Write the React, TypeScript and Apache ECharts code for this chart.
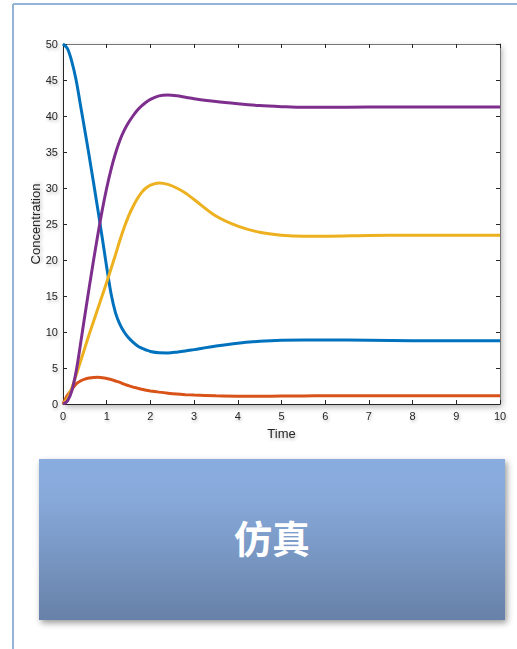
import React, { useEffect, useRef } from "react";
import * as echarts from "echarts";

const time = [0, 0.1, 0.2, 0.3, 0.4, 0.5, 0.6, 0.7, 0.8, 0.9, 1.0, 1.1, 1.2, 1.3, 1.4, 1.5, 1.6, 1.7, 1.8, 1.9, 2.0, 2.2, 2.4, 2.6, 2.8, 3.0, 3.5, 4, 4.5, 5, 5.5, 6, 7, 8, 9, 10];

const seriesA = [50, 49.4, 47.6, 45, 41.5, 38, 34.4, 30.7, 26.9, 23, 19, 15.3, 12.7, 11.1, 10.0, 9.2, 8.6, 8.1, 7.75, 7.5, 7.3, 7.12, 7.1, 7.2, 7.35, 7.55, 8.05, 8.45, 8.7, 8.85, 8.9, 8.9, 8.85, 8.8, 8.8, 8.8];
const seriesB = [0, 1.2, 2.0, 2.8, 3.2, 3.45, 3.6, 3.68, 3.7, 3.65, 3.55, 3.4, 3.2, 3.0, 2.75, 2.55, 2.35, 2.2, 2.05, 1.92, 1.82, 1.65, 1.5, 1.38, 1.3, 1.24, 1.13, 1.08, 1.08, 1.1, 1.12, 1.14, 1.15, 1.15, 1.15, 1.15];
const seriesC = [0, 0.8, 2.2, 4, 5.9, 7.8, 9.7, 11.5, 13.3, 15.1, 16.9, 18.8, 20.7, 22.7, 24.5, 26.1, 27.4, 28.5, 29.4, 30.0, 30.4, 30.7, 30.5, 30.0, 29.3, 28.4, 26.1, 24.7, 23.85, 23.45, 23.3, 23.3, 23.4, 23.45, 23.45, 23.45];
const seriesD = [0, 0.4, 1.8, 4.5, 8.3, 12.3, 16.2, 20, 23.6, 27, 30, 32.6, 34.8, 36.6, 38, 39.1, 40, 40.8, 41.4, 41.9, 42.3, 42.8, 42.9, 42.8, 42.6, 42.4, 42.0, 41.7, 41.45, 41.3, 41.2, 41.2, 41.25, 41.25, 41.25, 41.25];

const seriesColors = ["#0072BD", "#D95319", "#EDB120", "#7E2F8E"];
const allSeries = [seriesA, seriesB, seriesC, seriesD];

const xLabel = "Time";
const yLabel = "Concentration";
const buttonText = "仿真";

export default function App() {
  const ref = useRef<HTMLDivElement>(null);

  useEffect(() => {
    if (!ref.current) return;
    const chart = echarts.init(ref.current, undefined, { renderer: "svg" });
    const axisColor = "#262626";
    const font = "'Liberation Sans', Arial, Helvetica, sans-serif";
    const labelShadow = {
      textShadowColor: "rgba(0,0,0,0.25)",
      textShadowBlur: 3,
      textShadowOffsetX: 1,
      textShadowOffsetY: 2,
    };
    chart.setOption({
      animation: false,
      backgroundColor: "#ffffff",
      grid: {
        left: 63,
        top: 44,
        width: 437,
        height: 360,
        show: true,
        borderWidth: 0,
        backgroundColor: "#ffffff",
        shadowBlur: 6,
        shadowColor: "rgba(0,0,0,0.3)",
        shadowOffsetX: 2,
        shadowOffsetY: 3,
      },
      xAxis: [
        {
          type: "value",
          min: 0,
          max: 10,
          interval: 1,
          name: xLabel,
          nameLocation: "middle",
          nameGap: 23,
          nameMoveOverlap: false,
          nameTextStyle: { color: axisColor, fontSize: 13, fontFamily: font, ...labelShadow },
          axisLine: { show: true, onZero: false, lineStyle: { color: axisColor, width: 1 } },
          axisTick: { show: true, inside: true, length: 4, lineStyle: { color: axisColor } },
          axisLabel: { color: axisColor, fontSize: 11, fontFamily: font, margin: 6, ...labelShadow },
          splitLine: { show: false },
        },
        {
          type: "value",
          min: 0,
          max: 10,
          interval: 1,
          position: "top",
          axisLine: { show: true, onZero: false, lineStyle: { color: "#777777", width: 1 } },
          axisTick: { show: true, inside: true, length: 4, lineStyle: { color: axisColor } },
          axisLabel: { show: false },
          splitLine: { show: false },
        },
      ],
      yAxis: [
        {
          type: "value",
          min: 0,
          max: 50,
          interval: 5,
          name: yLabel,
          nameLocation: "middle",
          nameGap: 21,
          nameRotate: 90,
          nameMoveOverlap: false,
          nameTextStyle: { color: axisColor, fontSize: 13, fontFamily: font, ...labelShadow },
          axisLine: { show: true, onZero: false, lineStyle: { color: axisColor, width: 1 } },
          axisTick: { show: true, inside: true, length: 4, lineStyle: { color: axisColor } },
          axisLabel: { color: axisColor, fontSize: 11, fontFamily: font, margin: 5, ...labelShadow },
          splitLine: { show: false },
        },
        {
          type: "value",
          min: 0,
          max: 50,
          interval: 5,
          position: "right",
          axisLine: { show: true, onZero: false, lineStyle: { color: "#777777", width: 1 } },
          axisTick: { show: true, inside: true, length: 4, lineStyle: { color: axisColor } },
          axisLabel: { show: false },
          splitLine: { show: false },
        },
      ],
      series: allSeries.map((vals, i) => ({
        type: "line",
        xAxisIndex: 0,
        yAxisIndex: 0,
        data: time.map((t, j) => [t, vals[j]]),
        smooth: 0.3,
        showSymbol: false,
        symbol: "none",
        lineStyle: { color: seriesColors[i], width: 3 },
        itemStyle: { color: seriesColors[i] },
        z: 3 + i,
      })),
      graphic: [
        {
          type: "line",
          shape: { x1: 13, y1: 4, x2: 13, y2: 649 },
          style: { stroke: "#95b3d7", lineWidth: 2 },
          silent: true,
        },
        {
          type: "line",
          shape: { x1: 13, y1: 4, x2: 517, y2: 4 },
          style: { stroke: "#95b3d7", lineWidth: 2 },
          silent: true,
        },
        {
          type: "rect",
          shape: { x: 39, y: 459, width: 466, height: 161 },
          style: {
            fill: new echarts.graphic.LinearGradient(0, 0, 0, 1, [
              { offset: 0, color: "#8aaddf" },
              { offset: 0.25, color: "#87a9da" },
              { offset: 1, color: "#6781a8" },
            ]),
            shadowBlur: 6,
            shadowColor: "rgba(0,0,0,0.4)",
            shadowOffsetX: 2,
            shadowOffsetY: 3,
          },
          silent: true,
        },
        {
          type: "text",
          x: 272,
          y: 536,
          style: {
            text: buttonText,
            fill: "#ffffff",
            fontSize: 38,
            fontWeight: "bold",
            fontFamily: "'Noto Sans CJK SC', sans-serif",
            align: "center",
            verticalAlign: "middle",
          },
          silent: true,
        },
      ],
    });
    return () => chart.dispose();
  }, []);

  return (
    <div
      ref={ref}
      style={{ position: "fixed", left: 0, top: 0, width: 517, height: 649 }}
    />
  );
}
